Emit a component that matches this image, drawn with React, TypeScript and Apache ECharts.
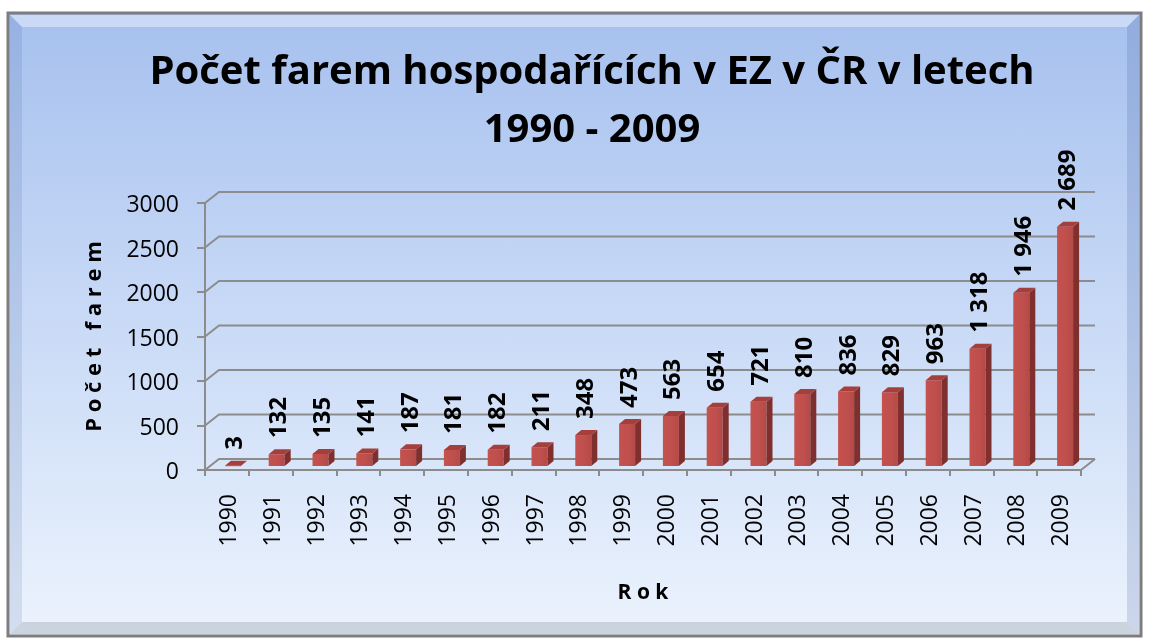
import React, { useEffect, useRef } from "react";
import * as echarts from "echarts";

const years = ["1990","1991","1992","1993","1994","1995","1996","1997","1998","1999","2000","2001","2002","2003","2004","2005","2006","2007","2008","2009"];
const farms = [3,132,135,141,187,181,182,211,348,473,563,654,721,810,836,829,963,1318,1946,2689];
const yTicks = [0,500,1000,1500,2000,2500,3000];

const FONT = "'Open Sans', 'Noto Sans', sans-serif";
const DX = 14, DY = -11; // back wall offset
const GRID = "#8c8c8c";

function fmt(v: number): string {
  const s = String(v);
  return s.length > 3 ? s.slice(0, s.length - 3) + " " + s.slice(-3) : s;
}

export default function App() {
  const ref = useRef<HTMLDivElement>(null);
  useEffect(() => {
    if (!ref.current) return;
    const chart = echarts.init(ref.current, null, { renderer: "svg" });
    const W = 1149, H = 641;
    const option: any = {
      animation: false,
      graphic: [
        {
          type: "rect", z: -100, silent: true,
          shape: { x: 8, y: 13, width: 1133, height: 623 },
          style: {
            fill: new echarts.graphic.LinearGradient(0, 0, 0, 1, [
              { offset: 0, color: "#a6c0ee" },
              { offset: 0.45, color: "#c6d8f6" },
              { offset: 1, color: "#ecf3fd" },
            ]),
            stroke: "#7d7d7d", lineWidth: 3,
          },
        },
        { type: "polygon", z: -99, silent: true, shape: { points: [[10,15],[1139,15],[1127,27],[22,27]] }, style: { fill: "rgba(255,255,255,0.40)" } },
        { type: "polygon", z: -99, silent: true, shape: { points: [[10,15],[22,27],[22,622],[10,634]] }, style: { fill: "rgba(40,70,140,0.12)" } },
        { type: "polygon", z: -99, silent: true, shape: { points: [[1139,15],[1127,27],[1127,622],[1139,634]] }, style: { fill: "rgba(40,70,140,0.16)" } },
        { type: "polygon", z: -99, silent: true, shape: { points: [[10,634],[22,622],[1127,622],[1139,634]] }, style: { fill: "rgba(60,70,90,0.18)" } },
      ],
      title: {
        text: "Počet farem hospodařících v EZ v ČR v letech\n1990 - 2009",
        left: 587, top: 34, textAlign: "center",
        textStyle: { fontFamily: FONT, fontSize: 40, fontWeight: "bold", color: "#000", lineHeight: 58 },
      },
      grid: { left: 205, right: W - 1081, top: 203, bottom: H - 470, containLabel: false },
      xAxis: {
        type: "category", data: years,
        name: "R o k", nameLocation: "middle", nameGap: 110,
        nameTextStyle: { fontFamily: FONT, fontSize: 21, fontWeight: "bold", color: "#000" },
        axisLine: { show: true, lineStyle: { color: GRID, width: 2 } },
        axisTick: { show: true, length: 6, interval: 0, lineStyle: { color: GRID, width: 2 } },
        axisLabel: { rotate: 90, interval: 0, margin: 24, fontFamily: FONT, fontSize: 23, color: "#000" },
        splitLine: { show: false },
      },
      yAxis: {
        type: "value", min: 0, max: 3000, interval: 500,
        name: "P o č e t   f a r e m", nameLocation: "middle", nameGap: 102, nameRotate: 90,
        nameTextStyle: { fontFamily: FONT, fontSize: 22, fontWeight: "bold", color: "#000" },
        axisLine: { show: true, lineStyle: { color: GRID, width: 2 } },
        axisTick: { show: true, length: 8, lineStyle: { color: GRID, width: 2 } },
        axisLabel: { margin: 26, fontFamily: FONT, fontSize: 23, color: "#000", formatter: (v: number) => String(v) },
        splitLine: { show: false },
      },
      series: [
        {
          type: "custom", z: 1, silent: true,
          data: yTicks.map((v) => [0, v]),
          renderItem: (params: any, api: any) => {
            const cs = params.coordSys;
            const y = api.coord([0, api.value(1)])[1];
            const x0 = cs.x, x1 = cs.x + cs.width;
            const children: any[] = [
              { type: "polyline", shape: { points: [[x0, y], [x0 + DX, y + DY], [x1 + DX, y + DY]] }, style: { stroke: GRID, lineWidth: 2, fill: null } },
            ];
            if (api.value(1) === 0) {
              children.push({ type: "line", shape: { x1: x1, y1: y, x2: x1 + DX, y2: y + DY }, style: { stroke: GRID, lineWidth: 2 } });
            }
            return { type: "group", children };
          },
        },
        {
          type: "custom", z: 3,
          data: farms.map((v, i) => [i, v]),
          renderItem: (params: any, api: any) => {
            const idx = api.value(0), v = api.value(1);
            const base = api.coord([idx, 0]);
            const topPt = api.coord([idx, v]);
            const cx = base[0];
            const left = cx - 2, right = cx + 14;
            const fb = base[1] - 4, ft = topPt[1] - 4;
            const sx = 6, sy = -5;
            return {
              type: "group",
              children: [
                {
                  type: "rect", shape: { x: left, y: ft, width: right - left, height: Math.max(fb - ft, 0.5) },
                  style: {
                    fill: new echarts.graphic.LinearGradient(0, 0, 1, 0, [
                      { offset: 0, color: "#c4524f" },
                      { offset: 0.5, color: "#c0504d" },
                      { offset: 1, color: "#b54a47" },
                    ]),
                  },
                },
                { type: "polygon", shape: { points: [[right, ft], [right + sx, ft + sy], [right + sx, fb + sy], [right, fb]] }, style: { fill: "#7f302e" } },
                { type: "polygon", shape: { points: [[left, ft], [left + sx, ft + sy], [right + sx, ft + sy], [right, ft]] }, style: { fill: "#a53f3c" } },
                {
                  type: "text", x: cx + 6, y: ft - 16, rotation: Math.PI / 2,
                  style: { text: fmt(v), align: "left", verticalAlign: "middle", fontFamily: FONT, fontSize: 24, fontWeight: "bold", fill: "#000" },
                },
              ],
            };
          },
        },
      ],
    };
    chart.setOption(option);
    return () => chart.dispose();
  }, []);
  return <div ref={ref} style={{ position: "fixed", left: 0, top: 0, width: 1149, height: 641 }} />;
}
